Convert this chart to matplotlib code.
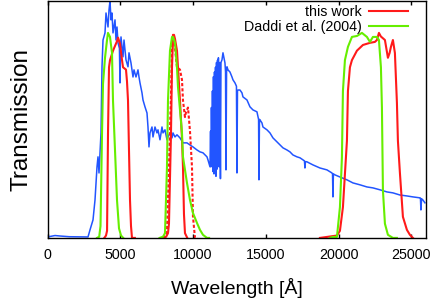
import matplotlib
matplotlib.use("Agg")
import matplotlib.pyplot as plt

plt.rcParams['font.family'] = ['Liberation Sans', 'DejaVu Sans']

# Spectrum (blue)
spec_wl = [0, 172, 515, 858, 1500, 2782, 2919, 3125, 3262, 3400, 3468, 3537, 3674, 3743, 3812,
           3949, 4018, 4155, 4224, 4292, 4361, 4430, 4498, 4636, 4704, 4773, 4842, 4940, 4979,
           5010, 5048, 5185, 5254, 5391, 5529, 5597, 5735, 5872, 5941, 6078, 6215, 6284, 6353,
           6490, 6559, 6696, 6834, 6902, 6971, 7040, 7177, 7246, 7383, 7520, 7589, 7727, 7864,
           7932, 8070, 8207, 8276, 8413, 8551, 8619, 8757, 8894, 9100, 9306, 9581, 9787, 9993,
           10268, 10474, 10680, 10955, 11024, 11161, 11200, 11230, 11260, 11299, 11330, 11367,
           11400, 11436, 11470, 11504, 11540, 11573, 11610, 11642, 11680, 11710, 11740, 11779,
           11830, 11880, 11916, 11985, 12054, 12191, 12230, 12260, 12300, 12328,
           12397, 12534, 12672, 12740, 12878, 12980, 13015, 13050, 13084, 13221, 13358, 13427,
           13702, 13908, 14114, 14388, 14457, 14500, 14526, 14560, 14594, 14732, 14800, 15075,
           15281, 15487, 15762, 15968, 16174, 16449, 16655, 16861, 17136, 17342, 17548, 17650,
           17685, 17720, 17823, 18235, 18716, 19196, 19540, 19580, 19608, 19640, 19746, 20089,
           20570, 20982, 21463, 21944, 22356, 22836, 23317, 23729, 24210, 24690, 25103, 25584,
           25620, 25652, 25700, 25790, 25927]
spec_tr = [0.004, 0.006, 0.010, 0.008, 0.005, 0.004, 0.034, 0.076, 0.160, 0.300, 0.342, 0.274,
           0.443, 0.722, 0.835, 0.865, 0.949, 0.890, 0.962, 1.0, 0.920, 0.949, 0.865, 0.920, 0.835,
           0.890, 0.823, 0.80, 0.654, 0.80, 0.848, 0.764, 0.835, 0.751, 0.722, 0.781, 0.738, 0.679,
           0.709, 0.679, 0.709, 0.679, 0.654, 0.612, 0.582, 0.553, 0.527, 0.468, 0.384, 0.443,
           0.468, 0.426, 0.468, 0.443, 0.456, 0.414, 0.468, 0.443, 0.456, 0.414, 0.426, 0.443,
           0.422, 0.443, 0.426, 0.435, 0.422, 0.401, 0.401, 0.392, 0.384, 0.371, 0.363, 0.359,
           0.342, 0.329, 0.300, 0.45, 0.30, 0.55, 0.32, 0.62, 0.28,
           0.68, 0.27, 0.70, 0.30, 0.72, 0.26, 0.74, 0.29, 0.75, 0.35, 0.76, 0.30,
           0.74, 0.25, 0.74, 0.751, 0.781, 0.738, 0.700, 0.287, 0.700, 0.722,
           0.709, 0.700, 0.679,
           0.667, 0.654, 0.640, 0.274, 0.620, 0.624, 0.624, 0.612, 0.595, 0.582, 0.553, 0.540,
           0.532, 0.511, 0.500, 0.245, 0.500, 0.498, 0.485, 0.468, 0.456, 0.443, 0.422, 0.405,
           0.392, 0.380, 0.371, 0.363, 0.350, 0.342, 0.338, 0.329, 0.325, 0.295, 0.322, 0.321,
           0.308, 0.295, 0.287, 0.274, 0.270, 0.173, 0.270, 0.266, 0.257, 0.245, 0.232, 0.224,
           0.215, 0.211, 0.203, 0.194, 0.190, 0.181, 0.177, 0.173, 0.169, 0.168, 0.118, 0.165,
           0.160, 0.148]

# This work filters (red)
bw_wl = [3900, 4018, 4090, 4155, 4224, 4292, 4500, 4773, 4842, 4979, 5118, 5185, 5391, 5460,
         5529, 5597, 5666, 5735, 5803, 6000]
bw_tr = [0, 0.01, 0.03, 0.44, 0.72, 0.75, 0.79, 0.83, 0.845, 0.82, 0.75, 0.72, 0.71, 0.66,
         0.58, 0.37, 0.16, 0.05, 0.0, 0]
iw_wl = [7900, 8150, 8276, 8344, 8482, 8551, 8619, 8688, 8757, 8894, 9100, 9237, 9306, 9374,
         9443, 9600]
iw_tr = [0, 0.005, 0.02, 0.06, 0.44, 0.72, 0.835, 0.857, 0.84, 0.79, 0.58, 0.42, 0.30, 0.10,
         0.02, 0]
iwd_wl = [7900, 8100, 8207, 8344, 8482, 8551, 8619, 8688, 8757, 8894, 9100, 9237, 9306, 9443,
          9512, 9649, 9720, 9787, 9924, 9993, 10130, 10300]
iwd_tr = [0, 0.01, 0.03, 0.3, 0.6, 0.8, 0.857, 0.85, 0.80, 0.72, 0.71, 0.667, 0.58, 0.51,
          0.53, 0.55, 0.50, 0.45, 0.30, 0.09, 0.0, 0]
kw_wl = [18716, 19883, 20089, 20295, 20570, 20639, 20776, 20913, 21257, 21669, 22150, 22493,
         22630, 22768, 22900, 23180, 23386, 23500, 23592, 23729, 23866, 24004, 24072, 24210,
         24416, 24690, 24896, 25103]
kw_tr = [0, 0.01, 0.03, 0.13, 0.41, 0.62, 0.72, 0.75, 0.79, 0.814, 0.823, 0.827, 0.835, 0.865,
         0.85, 0.835, 0.76, 0.78, 0.806, 0.835, 0.78, 0.57, 0.41, 0.274, 0.089, 0.034, 0.013, 0.0]

# Daddi et al. (2004) filters (green)
bd_wl = [3400, 3550, 3640, 3743, 3812, 3949, 4087, 4155, 4292, 4430, 4498, 4636, 4773, 4911,
         5050, 5200]
bd_tr = [0, 0.005, 0.05, 0.44, 0.65, 0.76, 0.835, 0.865, 0.848, 0.78, 0.58, 0.37, 0.16, 0.04,
         0.01, 0]
id_wl = [7700, 7932, 8070, 8207, 8276, 8413, 8551, 8619, 8757, 8894, 8963, 9100, 9237, 9306,
         9581, 9787, 9993, 10268, 10474, 10680, 10955, 11100]
id_tr = [0, 0.005, 0.02, 0.30, 0.58, 0.79, 0.848, 0.848, 0.823, 0.72, 0.637, 0.54, 0.443,
         0.342, 0.232, 0.16, 0.105, 0.063, 0.034, 0.013, 0, 0]
kd_wl = [19400, 19608, 19883, 20089, 20226, 20295, 20432, 20639, 20913, 21257, 21600, 21944,
         22150, 22356, 22630, 22768, 22905, 22974, 23043, 23180, 23386, 23729, 24000]
kd_tr = [0, 0.004, 0.004, 0.13, 0.34, 0.62, 0.75, 0.806, 0.848, 0.852, 0.865, 0.848, 0.827,
         0.848, 0.848, 0.835, 0.72, 0.55, 0.20, 0.06, 0.013, 0, 0]

xticks = [0, 5000, 10000, 15000, 20000, 25000]

BLUE = '#2255ff'
RED = '#ff1a1a'
GREEN = '#66ee00'

fig = plt.figure(figsize=(4.36, 3.0), dpi=100)
ax = fig.add_axes([0.109, 0.207, 0.868, 0.79])

ax.plot(spec_wl, spec_tr, color=BLUE, lw=1.1)
ax.plot(bw_wl, bw_tr, color=RED, lw=1.5, label='this work')
ax.plot(iw_wl, iw_tr, color=RED, lw=1.5)
ax.plot(iwd_wl, iwd_tr, color=RED, lw=1.5, ls=(0, (1.5, 1)))
ax.plot(kw_wl, kw_tr, color=RED, lw=1.5)
ax.plot(bd_wl, bd_tr, color=GREEN, lw=1.5, label='Daddi et al. (2004)')
ax.plot(id_wl, id_tr, color=GREEN, lw=1.5)
ax.plot(kd_wl, kd_tr, color=GREEN, lw=1.5)

ax.set_xlim(0, 26000)
ax.set_ylim(0, 1.0)
ax.set_xticks(xticks)
ax.set_xticklabels([str(t) for t in xticks])
ax.set_yticks([])
ax.tick_params(axis='x', direction='in', length=3, width=1, top=True, labelsize=10.3, pad=7)
for s in ax.spines.values():
    s.set_linewidth(1.0)

ax.set_xlabel('Wavelength [Å]', fontsize=14, labelpad=12)
ax.set_ylabel('Transmission', fontsize=17.5, labelpad=11)

leg = ax.legend(loc='upper right', bbox_to_anchor=(0.96, 0.993), frameon=False,
                markerfirst=False, fontsize=10.3,
                handlelength=2.7, handletextpad=0.55, labelspacing=0.02,
                borderaxespad=0.0, borderpad=0.2)

fig.savefig('out.png', dpi=100)
